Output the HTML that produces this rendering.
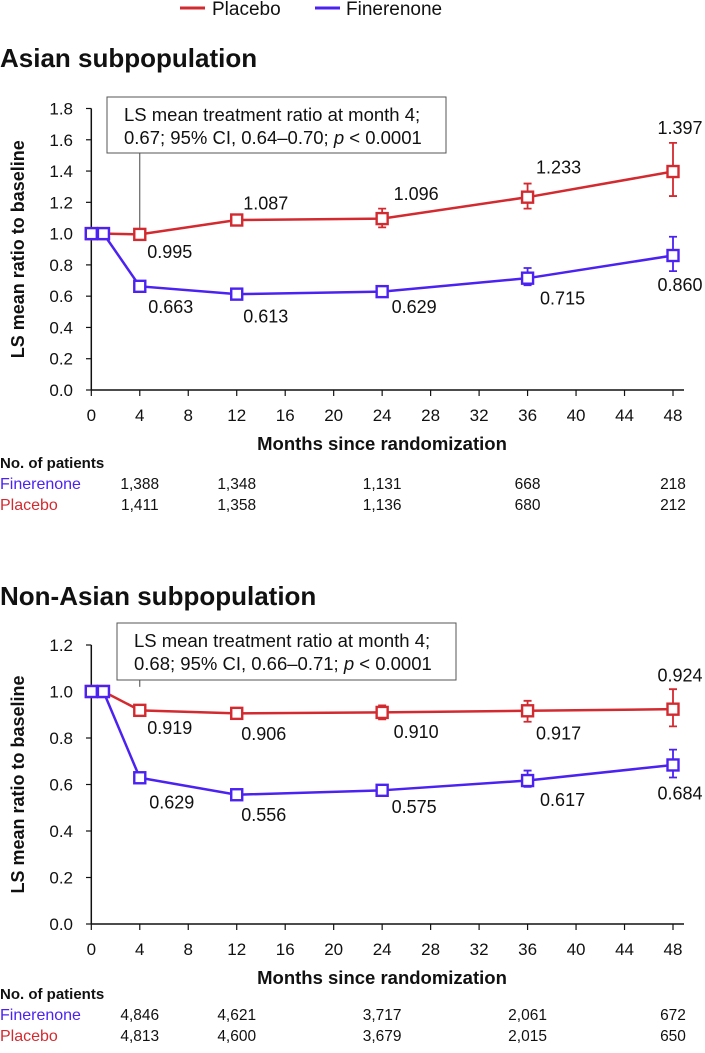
<!DOCTYPE html>
<html><head><meta charset="utf-8"><style>
html,body{margin:0;padding:0;background:#fff;}
svg text{font-family:"Liberation Sans",Arial,sans-serif;}
</style></head><body>
<svg id="fig" width="705" height="1048" viewBox="0 0 705 1048" xmlns="http://www.w3.org/2000/svg">
<g>
<g><line x1="180" y1="8" x2="205" y2="8" stroke="#d32a30" stroke-width="3"/><text x="212" y="15" font-size="19" fill="#111">Placebo</text></g>
<g><line x1="315" y1="8" x2="340" y2="8" stroke="#4b22f2" stroke-width="3"/><text x="346" y="15" font-size="19" fill="#111">Finerenone</text></g>
</g>
<g id="c1"></g>
<g id="c2"></g>
</svg>
<script>
const months = [0, 1, 4, 12, 24, 36, 48];
const asianPlacebo = [1.0, 1.0, 0.995, 1.087, 1.096, 1.233, 1.397];
const asianPlaceboLo = [null, null, 0.98, 1.06, 1.04, 1.16, 1.24];
const asianPlaceboHi = [null, null, 1.01, 1.11, 1.16, 1.32, 1.58];
const asianFin = [1.0, 1.0, 0.663, 0.613, 0.629, 0.715, 0.860];
const asianFinLo = [null, null, 0.65, 0.60, 0.61, 0.67, 0.76];
const asianFinHi = [null, null, 0.68, 0.63, 0.65, 0.78, 0.98];
const nonAsianPlacebo = [1.0, 1.0, 0.919, 0.906, 0.910, 0.917, 0.924];
const nonAsianPlaceboLo = [null, null, 0.91, 0.89, 0.88, 0.87, 0.85];
const nonAsianPlaceboHi = [null, null, 0.93, 0.93, 0.94, 0.96, 1.01];
const nonAsianFin = [1.0, 1.0, 0.629, 0.556, 0.575, 0.617, 0.684];
const nonAsianFinLo = [null, null, 0.62, 0.55, 0.56, 0.59, 0.63];
const nonAsianFinHi = [null, null, 0.64, 0.57, 0.59, 0.66, 0.75];
const xTicks = [0, 4, 8, 12, 16, 20, 24, 28, 32, 36, 40, 44, 48];
const asianYTicks = [0.0, 0.2, 0.4, 0.6, 0.8, 1.0, 1.2, 1.4, 1.6, 1.8];
const nonAsianYTicks = [0.0, 0.2, 0.4, 0.6, 0.8, 1.0, 1.2];
const riskMonths = [4, 12, 24, 36, 48];
const asianRiskFin = ["1,388", "1,348", "1,131", "668", "218"];
const asianRiskPla = ["1,411", "1,358", "1,136", "680", "212"];
const nonAsianRiskFin = ["4,846", "4,621", "3,717", "2,061", "672"];
const nonAsianRiskPla = ["4,813", "4,600", "3,679", "2,015", "650"];

const NS = "http://www.w3.org/2000/svg";
const RED = "#d32a30", BLUE = "#4b22f2";
function mk(parent, tag, attrs, text) {
  const e = document.createElementNS(NS, tag);
  for (const k in attrs) e.setAttribute(k, attrs[k]);
  if (text !== undefined) e.textContent = text;
  parent.appendChild(e);
  return e;
}
function fmt(v){ return v.toFixed(3); }

function drawChart(g, cfg) {
  const x = m => 91.3 + m * (673 - 91.3) / 48;
  const y = v => cfg.y0 - v * (cfg.y0 - cfg.yTop) / cfg.yMax;
  const t = mk(g, "text", {x: 0, y: cfg.titleY, "font-size": 26, "font-weight": "bold", fill: "#111"}, cfg.title);
  
  
  const ax = mk(g, "g", {});
  
  
  mk(ax, "line", {x1: 91.3, y1: cfg.yTop, x2: 91.3, y2: cfg.y0, stroke: "#111", "stroke-width": 1.5});
  mk(ax, "line", {x1: 91.3, y1: cfg.y0, x2: 684, y2: cfg.y0, stroke: "#111", "stroke-width": 1.5});
  cfg.yTicks.forEach(v => {
    mk(ax, "line", {x1: 86, y1: y(v), x2: 91.3, y2: y(v), stroke: "#111", "stroke-width": 1.2});
    const l = mk(ax, "text", {x: 73, y: y(v) + 6, "font-size": 17, "text-anchor": "end", fill: "#111"}, v.toFixed(1));
    
    
  });
  xTicks.forEach(m => {
    mk(ax, "line", {x1: x(m), y1: cfg.y0, x2: x(m), y2: cfg.y0 + 6, stroke: "#111", "stroke-width": 1.2});
    const l = mk(ax, "text", {x: x(m), y: cfg.y0 + 31, "font-size": 17, "text-anchor": "middle", fill: "#111"}, String(m));
    
    
  });
  const xt = mk(g, "text", {x: 382, y: cfg.y0 + 60, "font-size": 18.5, "font-weight": "bold", "text-anchor": "middle", fill: "#111"}, "Months since randomization");
  
  
  const yc = (cfg.y0 + cfg.yTop) / 2;
  const yt = mk(g, "text", {x: 0, y: 0, "font-size": 18, "font-weight": "bold", "text-anchor": "middle", fill: "#111", transform: `translate(24 ${yc}) rotate(-90)`}, "LS mean ratio to baseline");
  
  
  const an = mk(g, "g", {});
  
  
  mk(an, "line", {x1: x(4), y1: cfg.box[3], x2: x(4), y2: y(1.02), stroke: "#444", "stroke-width": 1});
  mk(an, "rect", {x: cfg.box[0], y: cfg.box[1], width: cfg.box[2] - cfg.box[0], height: cfg.box[3] - cfg.box[1], fill: "#fff", stroke: "#555", "stroke-width": 1});
  mk(an, "text", {x: cfg.box[0] + 17, y: cfg.box[1] + 24, "font-size": 18.5, fill: "#111"}, "LS mean treatment ratio at month 4;");
  const t2 = mk(an, "text", {x: cfg.box[0] + 17, y: cfg.box[1] + 47, "font-size": 18.5, fill: "#111"});
  t2.appendChild(document.createTextNode(cfg.ratioText + " "));
  mk(t2, "tspan", {"font-style": "italic"}, "p");
  t2.appendChild(document.createTextNode(" < 0.0001"));
  const series = [
    {name: "placebo", color: RED, v: cfg.pla, lo: cfg.plaLo, hi: cfg.plaHi, off: cfg.plaOff},
    {name: "finerenone", color: BLUE, v: cfg.fin, lo: cfg.finLo, hi: cfg.finHi, off: cfg.finOff}
  ];
  series.forEach(s => {
    const sg = mk(g, "g", {});
    
    
    const pts = months.map((m, i) => x(m) + "," + y(s.v[i])).join(" ");
    const pl = mk(sg, "polyline", {points: pts, fill: "none", stroke: s.color, "stroke-width": 2.5});
    
    
    months.forEach((m, i) => {
      if (s.lo[i] !== null) {
        const eb = mk(sg, "path", {d: `M${x(m)-4} ${y(s.hi[i])}H${x(m)+4}M${x(m)} ${y(s.hi[i])}V${y(s.lo[i])}M${x(m)-4} ${y(s.lo[i])}H${x(m)+4}`, stroke: s.color, "stroke-width": 1.8, fill: "none"});
        
        
      }
    });
    months.forEach((m, i) => {
      const r = mk(sg, "rect", {x: x(m) - 5.5, y: y(s.v[i]) - 5.5, width: 11, height: 11, fill: "#fff", stroke: s.color, "stroke-width": 2.4});
      
      
      if (i >= 2) {
        const o = s.off[i - 2];
        const l = mk(sg, "text", {x: x(m) + o[0], y: y(s.v[i]) + o[1] + 6.5, "font-size": 18, "text-anchor": "middle", fill: "#111"}, fmt(s.v[i]));
        
        
      }
    });
  });
  const rt = mk(g, "g", {});
  
  
  const b = cfg.tableY;
  mk(rt, "text", {x: 0, y: b, "font-size": 15, "font-weight": "bold", fill: "#111"}, "No. of patients");
  mk(rt, "text", {x: 0, y: b + 21, "font-size": 16, fill: BLUE}, "Finerenone");
  mk(rt, "text", {x: 0, y: b + 42, "font-size": 16, fill: RED}, "Placebo");
  riskMonths.forEach((m, i) => {
    mk(rt, "text", {x: x(m), y: b + 21, "font-size": 15.5, "text-anchor": "middle", fill: "#111"}, cfg.rf[i]);
    mk(rt, "text", {x: x(m), y: b + 42, "font-size": 15.5, "text-anchor": "middle", fill: "#111"}, cfg.rp[i]);
  });
}

drawChart(document.getElementById("c1"), {
  title: "Asian subpopulation", titleY: 67, y0: 390, yTop: 108.5, yMax: 1.8, yTicks: asianYTicks,
  box: [107, 97, 446, 153], ratioText: "0.67; 95% CI, 0.64–0.70;",
  pla: asianPlacebo, plaLo: asianPlaceboLo, plaHi: asianPlaceboHi,
  fin: asianFin, finLo: asianFinLo, finHi: asianFinHi,
  plaOff: [[30,17],[29,-17],[34,-25],[31,-30],[7,-44]],
  finOff: [[31,20],[29,22],[32,15],[35,20],[7,29]],
  tableY: 468, rf: asianRiskFin, rp: asianRiskPla
});
drawChart(document.getElementById("c2"), {
  title: "Non-Asian subpopulation", titleY: 605, y0: 924, yTop: 645, yMax: 1.2, yTicks: nonAsianYTicks,
  box: [117, 623, 456, 680], ratioText: "0.68; 95% CI, 0.66–0.71;",
  pla: nonAsianPlacebo, plaLo: nonAsianPlaceboLo, plaHi: nonAsianPlaceboHi,
  fin: nonAsianFin, finLo: nonAsianFinLo, finHi: nonAsianFinHi,
  plaOff: [[30,17],[27,20],[34,19],[31,22],[7,-34]],
  finOff: [[32,24],[27,20],[32,16],[35,19],[7,28]],
  tableY: 999, rf: nonAsianRiskFin, rp: nonAsianRiskPla
});
</script>
</body></html>
